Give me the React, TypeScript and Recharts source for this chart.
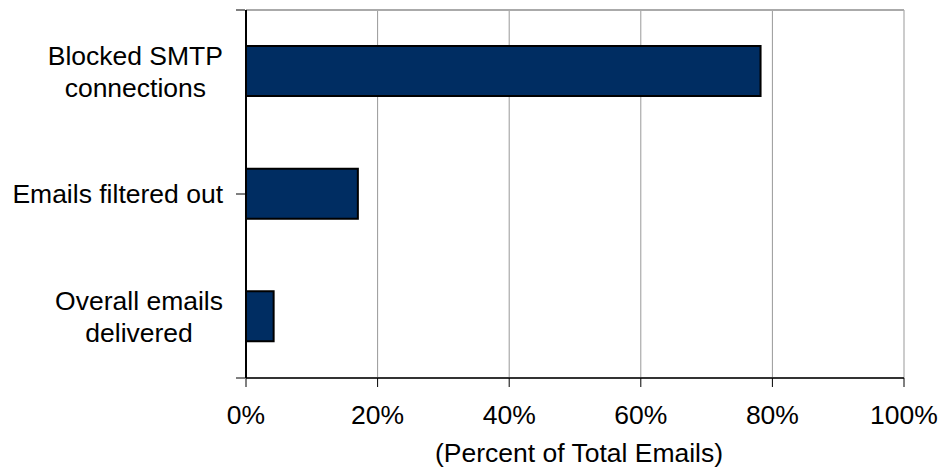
import { Bar, BarChart, CartesianGrid, Label, XAxis, YAxis } from "recharts";

const CATEGORIES = ["Blocked SMTP\nconnections", "Emails filtered out", "Overall emails\ndelivered"];
const SHARE_OF_EMAILS = [78.2, 17.0, 4.2];
const X_TICKS = [0, 20, 40, 60, 80, 100];
const BAND_EDGES = [0, 1, 2, 3];
const X_LABEL = "(Percent of Total Emails)";

const FONT = "'Liberation Sans', Arial, sans-serif";
const FONT_SIZE = 26.5;
const BAR_BLUE = "#002d62";

const data = CATEGORIES.map((name, i) => ({ name, value: SHARE_OF_EMAILS[i] }));

let ctx: CanvasRenderingContext2D | null = null;
function textWidth(text: string) {
  if (!ctx) ctx = document.createElement("canvas").getContext("2d");
  if (!ctx) return text.length * FONT_SIZE * 0.5;
  ctx.font = `${FONT_SIZE}px ${FONT}`;
  return ctx.measureText(text).width;
}

// multi-line label: block right-aligned to the tick x, each line centred in the block
function CategoryTick(props: any) {
  const { x, y, payload } = props;
  const lines = String(payload.value).split("\n");
  const blockWidth = Math.max(...lines.map(textWidth));
  const lineHeight = 32;
  const cx = x - blockWidth / 2;
  return (
    <g>
      {lines.map((line, i) => (
        <text
          key={i}
          x={cx}
          y={y + (i - (lines.length - 1) / 2) * lineHeight + FONT_SIZE * 0.358}
          textAnchor="middle"
          fontSize={FONT_SIZE}
          fontFamily={FONT}
          fill="#000"
        >
          {line}
        </text>
      ))}
    </g>
  );
}

export default function App() {
  return (
    <div style={{ position: "absolute", left: 0, top: 0, width: 941, height: 470, background: "#fff" }}>
      <BarChart
        width={941}
        height={470}
        data={data}
        layout="vertical"
        margin={{ top: 10, right: 37, bottom: 0, left: 0 }}
      >
        <CartesianGrid horizontal={false} stroke="#999" />
        <XAxis
          type="number"
          domain={[0, 100]}
          ticks={X_TICKS}
          interval={0}
          tickFormatter={(v) => `${v}%`}
          height={92}
          tickSize={9}
          tickMargin={18}
          tick={{ fontSize: FONT_SIZE, fontFamily: FONT, fill: "#000" }}
          tickLine={{ stroke: "#000" }}
          axisLine={{ stroke: "#333", strokeWidth: 2 }}
        >
          <Label
            value={X_LABEL}
            position="insideBottom"
            offset={8}
            dx={4}
            fontSize={FONT_SIZE}
            fontFamily={FONT}
            fill="#000"
          />
        </XAxis>
        <YAxis
          type="category"
          dataKey="name"
          width={1}
          tickLine={false}
          tickSize={0}
          tickMargin={23}
          tick={<CategoryTick />}
          axisLine={{ stroke: "#000", strokeWidth: 2 }}
        />
        {/* boundary ticks between categories, as in the original */}
        <YAxis
          yAxisId="edges"
          type="number"
          domain={[0, 3]}
          ticks={BAND_EDGES}
          interval={0}
          width={245}
          tickSize={9}
          tickFormatter={() => ""}
          tickLine={{ stroke: "#000" }}
          axisLine={false}
        />
        <Bar
          dataKey="value"
          fill={BAR_BLUE}
          stroke="#000"
          strokeWidth={2}
          barSize={50}
          isAnimationActive={false}
        />
        <CartesianGrid vertical={false} horizontalCoordinatesGenerator={({ offset }: any) => [offset.top]} stroke="#aaa" strokeWidth={2} />
      </BarChart>
    </div>
  );
}
